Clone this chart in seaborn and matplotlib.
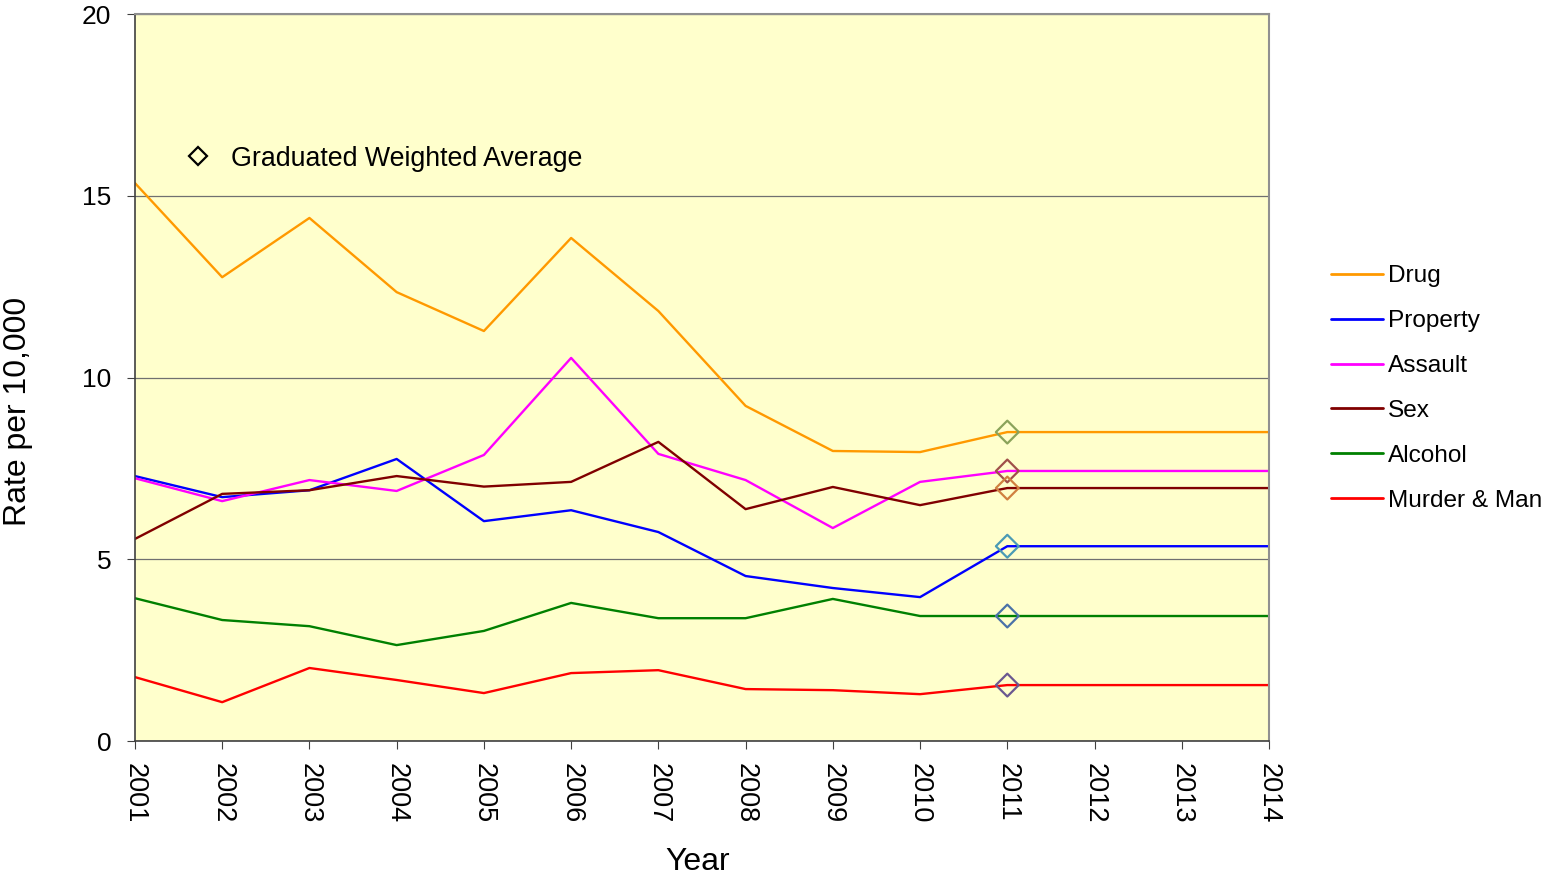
import matplotlib
matplotlib.use("Agg")
import matplotlib.pyplot as plt
import seaborn as sns
import pandas as pd
from matplotlib.lines import Line2D

years = list(range(2001, 2015))

drug = [15.35, 12.76, 14.39, 12.35, 11.28, 13.84, 11.83, 9.22, 7.98, 7.95, 8.50, 8.50, 8.50, 8.50]
prop = [7.29, 6.71, 6.90, 7.76, 6.05, 6.35, 5.75, 4.54, 4.21, 3.96, 5.36, 5.36, 5.36, 5.36]
assault = [7.23, 6.60, 7.18, 6.88, 7.87, 10.54, 7.90, 7.18, 5.86, 7.13, 7.43, 7.43, 7.43, 7.43]
sex = [5.56, 6.80, 6.90, 7.29, 7.00, 7.13, 8.23, 6.38, 6.99, 6.49, 6.96, 6.96, 6.96, 6.96]
alcohol = [3.93, 3.33, 3.16, 2.64, 3.03, 3.80, 3.38, 3.38, 3.91, 3.44, 3.44, 3.44, 3.44, 3.44]
murder = [1.76, 1.07, 2.01, 1.68, 1.32, 1.87, 1.95, 1.43, 1.40, 1.29, 1.54, 1.54, 1.54, 1.54]

names = ["Drug", "Property", "Assault", "Sex", "Alcohol", "Murder & Man"]
colors = ["#ff9900", "#0000ff", "#ff00ff", "#800000", "#008000", "#ff0000"]
# graduated weighted average markers (2011)
gwa_year = 2011
gwa_colors = ["#8aa35a", "#4a9bb5", "#a0504a", "#d08040", "#4a72a8", "#6a5890"]

df = pd.DataFrame({"Year": years * 6,
                   "Rate": drug + prop + assault + sex + alcohol + murder,
                   "Type": [n for n in names for _ in years]})

sns.set_style("white")
plt.rcParams['font.family'] = ['Liberation Sans', 'DejaVu Sans']
plt.rcParams['text.color'] = 'black'
plt.rcParams['axes.labelcolor'] = 'black'
plt.rcParams['xtick.color'] = 'black'
plt.rcParams['ytick.color'] = 'black'

fig = plt.figure(figsize=(15.44, 8.77), dpi=100)
ax = fig.add_axes([0.0874, 0.155, 0.7345, 0.829])
ax.set_facecolor("#ffffcc")

sns.lineplot(data=df, x="Year", y="Rate", hue="Type", palette=colors, linewidth=1.7, ax=ax, legend=False)

gwa = [drug, prop, assault, sex, alcohol, murder]
for series, c in zip(gwa, gwa_colors):
    ax.scatter([gwa_year], [series[years.index(gwa_year)]], marker="D", s=135, facecolors="none",
               edgecolors=c, linewidths=1.6, zorder=5)

ax.set_xlim(2001, 2014)
ax.set_ylim(0, 20)
ax.set_xticks(years)
ax.set_xticklabels([str(y) for y in years], rotation=-90, fontsize=19.5)
ax.set_yticks([0, 5, 10, 15, 20])
ax.tick_params(axis="y", labelsize=19, length=6, direction="out", left=True, color="#404040", pad=11)
ax.tick_params(axis="x", length=6, direction="out", bottom=True, color="#404040", pad=10)
ax.yaxis.grid(True, color="#707070", linewidth=0.9)
ax.set_axisbelow(True)
for s in ["top", "right"]:
    ax.spines[s].set_color("#909090")
    ax.spines[s].set_linewidth(1.5)
for s in ["left", "bottom"]:
    ax.spines[s].set_color("#404040")
    ax.spines[s].set_linewidth(1.2)

ax.set_xlabel("Year", fontsize=23)
ax.set_ylabel("Rate per 10,000", fontsize=23)
ax.xaxis.set_label_coords(0.4965, -0.146)
ax.yaxis.set_label_coords(-0.090, 0.454)

# series legend on the right
handles = [Line2D([0], [0], color=c, lw=2) for c in colors]
fig.legend(handles, names, loc="center left", bbox_to_anchor=(0.848, 0.557), frameon=False,
           fontsize=17.6, handlelength=2.1, handletextpad=0.2, labelspacing=0.93)

# marker legend in the plot
mk = Line2D([0], [0], marker="D", color="none", markerfacecolor="none", markeredgecolor="black",
            markeredgewidth=1.6, markersize=9.5)
ax.legend([mk], ["Graduated Weighted Average"], loc="upper left", bbox_to_anchor=(0.0103, 0.852),
          frameon=False, fontsize=19.3, handletextpad=0.25)

fig.savefig("out.png", dpi=100)
